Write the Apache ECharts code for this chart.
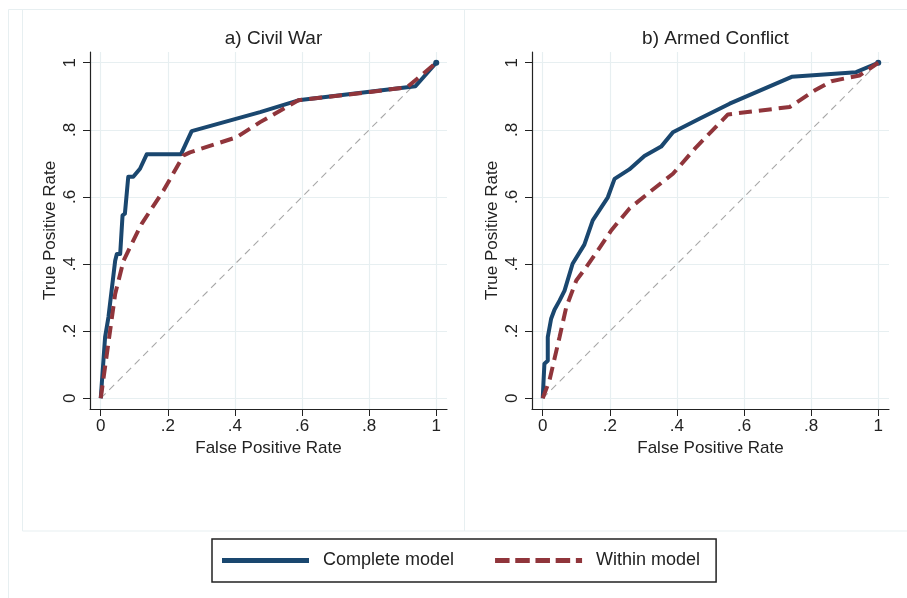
<!DOCTYPE html>
<html>
<head>
<meta charset="utf-8">
<script src="https://cdn.jsdelivr.net/npm/echarts@6/dist/echarts.min.js"></script>
<style>
html,body{margin:0;padding:0;background:#fff;}
#chart{width:907px;height:598px;}
</style>
</head>
<body>
<div id="chart"></div>
<script>
// ---------- data ----------
const panelTitles = ['a) Civil War', 'b) Armed Conflict'];
const seriesNames = ['Complete model', 'Within model'];
const tickValues = [0, 0.2, 0.4, 0.6, 0.8, 1];
const tickLabels = ['0', '.2', '.4', '.6', '.8', '1'];
const xAxisTitle = 'False Positive Rate';
const yAxisTitle = 'True Positive Rate';

// a) Civil War - Complete model
const civilCompleteX = [0, 0.003, 0.008, 0.013, 0.023, 0.043, 0.048, 0.058, 0.065, 0.072, 0.082, 0.097, 0.117, 0.137, 0.239, 0.271, 0.475, 0.589, 0.938, 1];
const civilCompleteY = [0, 0, 0.112, 0.182, 0.242, 0.41, 0.43, 0.43, 0.545, 0.55, 0.66, 0.66, 0.684, 0.727, 0.727, 0.796, 0.853, 0.888, 0.93, 1];
// a) Civil War - Within model
const civilWithinX = [0, 0.003, 0.028, 0.043, 0.068, 0.097, 0.122, 0.187, 0.247, 0.266, 0.405, 0.475, 0.589, 0.803, 0.913, 1];
const civilWithinY = [0, 0, 0.202, 0.311, 0.41, 0.47, 0.52, 0.619, 0.724, 0.733, 0.778, 0.823, 0.888, 0.913, 0.927, 1];
// b) Armed Conflict - Complete model
const armedCompleteX = [0, 0.002, 0.005, 0.015, 0.015, 0.025, 0.035, 0.05, 0.065, 0.089, 0.124, 0.149, 0.194, 0.214, 0.258, 0.303, 0.353, 0.388, 0.467, 0.557, 0.742, 0.934, 1];
const armedCompleteY = [0, 0.043, 0.103, 0.112, 0.182, 0.237, 0.264, 0.291, 0.321, 0.401, 0.458, 0.53, 0.599, 0.654, 0.682, 0.722, 0.75, 0.793, 0.833, 0.878, 0.958, 0.972, 1];
// b) Armed Conflict - Within model
const armedWithinX = [0, 0.02, 0.05, 0.07, 0.1, 0.129, 0.164, 0.204, 0.258, 0.318, 0.388, 0.457, 0.552, 0.736, 0.81, 0.86, 0.944, 1];
const armedWithinY = [0, 0.053, 0.182, 0.271, 0.351, 0.39, 0.44, 0.5, 0.565, 0.614, 0.669, 0.748, 0.846, 0.868, 0.917, 0.945, 0.962, 1];
// reference diagonal
const diagX = [0, 1];
const diagY = [0, 1];

// ---------- build ----------
const FONT = 'Liberation Sans, Arial, Helvetica, sans-serif';
const BLUE = '#1a476f';
const RED = '#90353b';
const GRIDC = '#e7eff1';
const labelFmt = v => {
  const i = tickValues.findIndex(t => Math.abs(t - v) < 1e-9);
  return i >= 0 ? tickLabels[i] : '';
};
// mark only the end point (1,1) with a small dot, like the reference
const toPoints = (xs, ys, endDot) => xs.map((x, i) => {
  const last = i === xs.length - 1;
  if (endDot && last) return {value: [x, ys[i]], symbol: 'circle', symbolSize: 6};
  return {value: [x, ys[i]], symbol: 'none'};
});
const AMIN = -0.032, AMAX = 1.032;
const gridLefts = [90, 532];

const chart = echarts.init(document.getElementById('chart'), null, {renderer: 'canvas'});

const grids = gridLefts.map(l => ({left: l, top: 52, width: 357, height: 357, containLabel: false}));
const axisCommon = {
  type: 'value', min: AMIN, max: AMAX,
  axisLine: {show: true, onZero: false, lineStyle: {color: '#222', width: 1.2}},
  axisTick: {show: true, length: 7, customValues: tickValues, lineStyle: {color: '#222', width: 1}},
  splitLine: {show: true, lineStyle: {color: GRIDC, width: 1.2}},
  nameLocation: 'middle',
  nameTextStyle: {fontFamily: FONT, fontSize: 17, color: '#222'}
};
const xAxes = gridLefts.map((l, i) => Object.assign({}, axisCommon, {
  gridIndex: i, position: 'bottom', name: xAxisTitle, nameGap: 27,
  axisLabel: {customValues: tickValues, formatter: labelFmt, fontFamily: FONT, fontSize: 17, color: '#222', margin: 9}
}));
const yAxes = gridLefts.map((l, i) => Object.assign({}, axisCommon, {
  gridIndex: i, position: 'left', name: yAxisTitle, nameGap: 31,
  axisLabel: {customValues: tickValues, formatter: labelFmt, rotate: 90, fontFamily: FONT, fontSize: 17, color: '#222', margin: 11}
}));

const panels = [
  [civilCompleteX, civilCompleteY, civilWithinX, civilWithinY],
  [armedCompleteX, armedCompleteY, armedWithinX, armedWithinY]
];
const series = [];
panels.forEach((p, i) => {
  series.push({
    name: 'diag', type: 'line', xAxisIndex: i, yAxisIndex: i, data: toPoints(diagX, diagY, false),
    symbol: 'none', silent: true, z: 1,
    lineStyle: {color: '#a8a8a8', width: 1.1, type: [7, 5]}
  });
  series.push({
    name: seriesNames[0], type: 'line', xAxisIndex: i, yAxisIndex: i, data: toPoints(p[0], p[1], true),
    showSymbol: true, z: 2, color: BLUE, itemStyle: {color: BLUE},
    lineStyle: {color: BLUE, width: 4, join: 'round'}
  });
  series.push({
    name: seriesNames[1], type: 'line', xAxisIndex: i, yAxisIndex: i, data: toPoints(p[2], p[3], false),
    symbol: 'none', z: 3, color: RED, itemStyle: {color: RED},
    lineStyle: {color: RED, width: 4, type: [13, 7]}
  });
});

const dashIcon = 'path://M0,0h14.5v5h-14.5z M20.2,0h14.5v5h-14.5z M40.4,0h14.5v5h-14.5z M60.6,0h14.5v5h-14.5z M80.8,0h6.2v5h-6.2z';

const option = {
  animation: false,
  backgroundColor: '#ffffff',
  title: panelTitles.map((t, i) => ({
    text: t, left: gridLefts[i] + 178.5, top: 24, textAlign: 'center',
    textStyle: {fontFamily: FONT, fontSize: 19, fontWeight: 'normal', color: '#222'}
  })),
  graphic: [
    {type: 'rect', shape: {x: 8.5, y: 9.5, width: 920, height: 600}, style: {fill: 'none', stroke: GRIDC, lineWidth: 1}, silent: true, z: -10},
    {type: 'rect', shape: {x: 22.5, y: 9.5, width: 442, height: 521.5}, style: {fill: 'none', stroke: GRIDC, lineWidth: 1}, silent: true, z: -10},
    {type: 'rect', shape: {x: 464.5, y: 9.5, width: 460, height: 521.5}, style: {fill: 'none', stroke: GRIDC, lineWidth: 1}, silent: true, z: -10}
  ],
  legend: {
    data: [
      {name: seriesNames[0], icon: 'rect', itemStyle: {color: BLUE}},
      {name: seriesNames[1], icon: dashIcon, itemStyle: {color: RED}}
    ],
    left: 212, top: 539,
    orient: 'horizontal',
    itemWidth: 87, itemHeight: 5, itemGap: 41,
    padding: [12, 16, 12, 10],
    borderColor: '#222', borderWidth: 1.5,
    backgroundColor: '#fff',
    textStyle: {fontFamily: FONT, fontSize: 18, color: '#222', padding: [0, 0, 0, 9], lineHeight: 19}
  },
  grid: grids,
  xAxis: xAxes,
  yAxis: yAxes,
  series: series
};
chart.setOption(option);
</script>
</body>
</html>
